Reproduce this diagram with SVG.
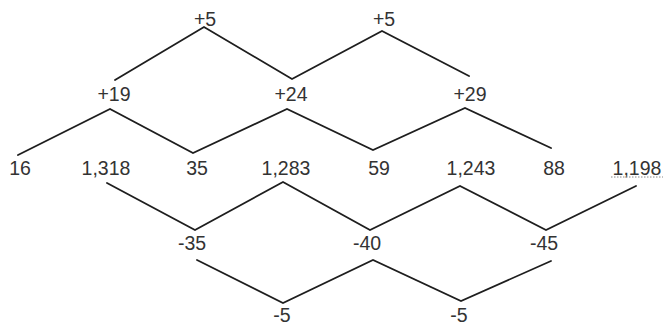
<svg xmlns="http://www.w3.org/2000/svg" width="666" height="326" viewBox="0 0 666 326">
<style>
text{font-family:"Liberation Sans",Arial,sans-serif;font-size:19.5px;fill:#333333;text-anchor:middle}
.c{stroke:#1e1e1e;stroke-width:1.8;fill:none;stroke-linecap:round;stroke-linejoin:miter}
</style>
<rect width="666" height="326" fill="#ffffff"/>
<g id="connectors">
<polyline class="c" points="115,80 204,27 292,79 382,31 469,76"/>
<polyline class="c" points="18,155 110,109 193,153 287,109 373,150 465,108 551,148"/>
<polyline class="c" points="107,183 195,230 283,182 370,230 460,186 546,230 636,186"/>
<polyline class="c" points="197,260 283,303 373,260 461,301 551,261"/>
</g>
<g id="n-top1"><text x="205" y="26">+5</text></g>
<g id="n-top2"><text x="384" y="26">+5</text></g>
<g id="n-p19"><text x="114" y="101">+19</text></g>
<g id="n-p24"><text x="291" y="101">+24</text></g>
<g id="n-p29"><text x="470" y="101">+29</text></g>
<g id="n-16"><text x="20" y="175">16</text></g>
<g id="n-1318"><text x="106" y="175">1,318</text></g>
<g id="n-35"><text x="197" y="175">35</text></g>
<g id="n-1283"><text x="286" y="175">1,283</text></g>
<g id="n-59"><text x="379" y="175">59</text></g>
<g id="n-1243"><text x="471" y="175">1,243</text></g>
<g id="n-88"><text x="554" y="175">88</text></g>
<g id="n-1198"><text x="637" y="175">1,198</text><line x1="611" y1="177" x2="663" y2="177" stroke="#888" stroke-width="1" stroke-dasharray="1.5,1.5"/></g>
<g id="n-m35"><text x="192" y="250">-35</text></g>
<g id="n-m40"><text x="367" y="250">-40</text></g>
<g id="n-m45"><text x="544" y="250">-45</text></g>
<g id="n-m5a"><text x="282" y="322">-5</text></g>
<g id="n-m5b"><text x="459" y="322">-5</text></g>
</svg>
